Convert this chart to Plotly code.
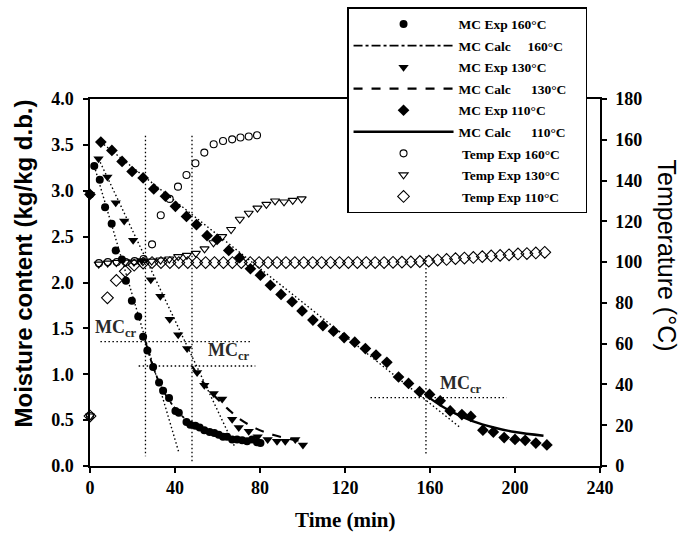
import plotly.graph_objects as go

# ---------------- data ----------------
# Moisture content, experimental
t_mc160 = [0, 2.0, 4.6, 7.1, 10.2, 12.1, 15.0, 16.9, 19.7, 22.7, 25.0, 27.0, 29.7, 32.5, 34.4, 37.2,
           40.2, 41.8, 45.4, 47.2, 49.6, 51.6, 53.8, 56.3, 58.5, 60.6, 62.6, 64.5, 66.9, 69.2, 71.6,
           73.9, 76.3, 78.6, 80.2]
mc160 = [2.96, 3.27, 3.12, 2.82, 2.64, 2.35, 2.25, 2.02, 1.80, 1.63, 1.41, 1.26, 1.08, 0.91, 0.82, 0.74,
         0.60, 0.58, 0.48, 0.45, 0.44, 0.42, 0.39, 0.37, 0.36, 0.34, 0.32, 0.32, 0.29, 0.29, 0.28,
         0.27, 0.29, 0.26, 0.25]

t_mc130 = [0, 4.0, 8.2, 12.1, 16.1, 20.3, 24.4, 28.6, 33.1, 37.5, 41.5, 45.7, 50.4, 53.8, 58.2, 62.2,
           66.9, 70.0, 74.7, 78.9, 83.6, 88.0, 91.9, 96.6, 100.2]
mc130 = [2.96, 3.35, 3.15, 2.87, 2.67, 2.46, 2.24, 2.03, 1.85, 1.60, 1.43, 1.28, 1.02, 0.88, 0.79, 0.73,
         0.51, 0.42, 0.38, 0.32, 0.29, 0.27, 0.27, 0.29, 0.23]

t_mc110 = [0, 5.1, 10.3, 15.1, 19.8, 25.0, 30.0, 35.5, 40.2, 45.4, 50.1, 55.1, 59.8, 65.3, 70.4, 75.5,
           80.2, 84.9, 89.9, 95.1, 99.8, 104.9, 109.6, 114.6, 119.6, 124.6, 129.6, 134.6, 139.7, 145.2,
           149.9, 155.1, 159.8, 164.8, 169.5, 175.0, 179.2, 184.9, 189.8, 194.9, 200.0, 204.8, 209.8, 215.0]
mc110 = [2.96, 3.53, 3.44, 3.32, 3.21, 3.14, 3.02, 2.94, 2.83, 2.72, 2.63, 2.51, 2.47, 2.35, 2.27, 2.15,
         2.08, 1.97, 1.87, 1.79, 1.69, 1.59, 1.53, 1.47, 1.40, 1.35, 1.28, 1.21, 1.13, 0.97,
         0.90, 0.81, 0.78, 0.71, 0.60, 0.56, 0.54, 0.39, 0.37, 0.31, 0.29, 0.28, 0.25, 0.23]

# Moisture content, calculated (falling-rate curves)
t_calc160 = [26.1, 30, 35, 40, 45, 50, 60, 70, 80]
mc_calc160 = [1.36, 1.06, 0.80, 0.63, 0.51, 0.43, 0.34, 0.29, 0.26]
t_calc130 = [48.0, 52, 56, 60, 65, 70, 78, 86, 95, 100]
mc_calc130 = [1.09, 0.95, 0.83, 0.73, 0.62, 0.52, 0.41, 0.34, 0.29, 0.27]
t_calc110 = [158.1, 165, 172, 180, 190, 200, 213.4]
mc_calc110 = [0.77, 0.66, 0.57, 0.49, 0.42, 0.37, 0.33]

# Constant-rate straight fits (dotted)
t_lin160 = [2.0, 41.9]
mc_lin160 = [3.27, 0.14]
t_lin130 = [4.0, 67.9]
mc_lin130 = [3.35, 0.22]
t_lin110 = [5.1, 174.2]
mc_lin110 = [3.53, 0.42]

# Critical moisture content guide lines
t_cr = [26.1, 48.0, 158.1]
mc_cr = [1.355, 1.09, 0.745]
vline_mc = [[3.6, 0.107], [3.6, 0.035], [2.29, 0.125]]
hline_t = [[4.9, 76.3], [22.9, 77.8], [132.0, 196.1]]
label_pos = [[1.5, 1.50], [54.8, 1.25], [163.8, 0.89]]

# Temperature, experimental
t_T160 = [0, 4.2, 8.4, 12.6, 16.8, 21.0, 25.2, 29.2, 33.3, 37.5, 41.4, 45.4, 49.6, 53.8, 58.2, 62.6,
          66.9, 70.8, 74.7, 78.6]
T160 = [24.5, 99.5, 100, 100, 100, 100.5, 101.5, 108.7, 123.0, 131.0, 137.0, 142.7, 148.5, 153.7, 157.8,
        159.4, 160.2, 161.1, 161.6, 162.2]

t_T130 = [0, 4.1, 8.3, 12.4, 16.6, 20.7, 24.9, 29.0, 33.2, 37.3, 41.5, 45.6, 49.8, 53.9, 58.1, 62.2,
          66.4, 70.5, 74.7, 78.8, 83.0, 87.1, 91.3, 95.4, 99.6]
T130 = [24.5, 99.0, 99.5, 99.8, 100, 100, 100.2, 100.5, 101, 101.5, 102.7, 103.3, 104.3, 106.5, 109.5,
        112.5, 116.0, 121.0, 124.0, 126.5, 128.3, 130.0, 129.5, 130.3, 131.0]

t_T110 = [0, 8.2, 12.4, 16.6, 20.8, 25.0, 29.2, 33.4, 37.6, 41.8, 46.0, 50.2, 54.4, 58.6, 62.8, 67.0,
          71.2, 75.4, 79.6, 83.8, 88.0, 92.2, 96.4, 100.6, 104.8, 109.0, 113.2, 117.4, 121.6, 125.8,
          130.0, 134.2, 138.4, 142.6, 146.8, 151.0, 155.2, 159.4, 163.6, 167.8, 172.0, 176.2, 180.4,
          184.6, 188.8, 193.0, 197.2, 201.4, 205.6, 209.8, 214.0]
T110 = [24.5, 82.5, 91.0, 95.5, 98.5, 99.5, 99.8, 99.8, 99.8, 99.8, 99.8, 99.8, 99.8, 99.8, 99.8, 99.8,
        99.8, 99.8, 99.8, 99.8, 99.8, 99.8, 99.8, 99.8, 99.8, 99.8, 99.8, 99.8, 99.8, 99.8,
        99.8, 99.8, 99.8, 99.9, 100.0, 100.1, 100.3, 100.5, 101.0, 101.3, 101.7, 102.0, 102.3,
        102.7, 103.0, 103.3, 103.6, 104.0, 104.2, 104.5, 104.8]

x_ticks = [0, 40, 80, 120, 160, 200, 240]
y_ticks = [0.0, 0.5, 1.0, 1.5, 2.0, 2.5, 3.0, 3.5, 4.0]
y2_ticks = [0, 20, 40, 60, 80, 100, 120, 140, 160, 180]

# ---------------- figure ----------------
SERIF = "Liberation Serif"
SANS = "Liberation Sans"
NB = "\u00a0"
DOT = "1.5px,2.5px"
PAD = NB * 4

fig = go.Figure()

# straight dotted constant-rate lines (no legend)
for tt, mm in [(t_lin160, mc_lin160), (t_lin130, mc_lin130), (t_lin110, mc_lin110)]:
    fig.add_trace(go.Scatter(x=tt, y=mm, mode="lines", showlegend=False, hoverinfo="skip",
                             line=dict(color="black", width=1.4, dash=DOT)))

# critical moisture guide lines
for i in range(3):
    fig.add_trace(go.Scatter(x=[t_cr[i], t_cr[i]], y=vline_mc[i], mode="lines", showlegend=False,
                             hoverinfo="skip", line=dict(color="black", width=1.3, dash=DOT)))
    fig.add_trace(go.Scatter(x=hline_t[i], y=[mc_cr[i], mc_cr[i]], mode="lines", showlegend=False,
                             hoverinfo="skip", line=dict(color="black", width=1.3, dash=DOT)))

def add(name, x, y, group, **kw):
    fig.add_trace(go.Scatter(x=x, y=y, name=name, legendgroup=group, cliponaxis=False, **kw))

add("MC Exp 160°C" + PAD, t_mc160, mc160, "a", mode="markers",
    marker=dict(symbol="circle", size=8, color="black"))
add("MC Calc" + NB * 5 + "160°C" + PAD, t_calc160, mc_calc160, "b", mode="lines",
    line=dict(color="black", width=1.8, dash="dashdot", shape="spline"))
add("MC Exp 130°C" + PAD, t_mc130, mc130, "c", mode="markers",
    marker=dict(symbol="triangle-down", size=9, color="black"))
add("MC Calc" + NB * 6 + "130°C" + PAD, t_calc130, mc_calc130, "d", mode="lines",
    line=dict(color="black", width=2.2, dash="dash", shape="spline"))
add("MC Exp 110°C" + PAD, t_mc110, mc110, "e", mode="markers",
    marker=dict(symbol="diamond", size=9, color="black"))
add("MC Calc" + NB * 6 + "110°C" + PAD, t_calc110, mc_calc110, "f", mode="lines",
    line=dict(color="black", width=2.4, shape="spline"))
add(NB + "Temp Exp 160°C" + PAD, t_T160, T160, "g", mode="markers", yaxis="y2",
    marker=dict(symbol="circle-open", size=7, color="black", line=dict(width=1.1)))
add(NB + "Temp Exp 130°C" + PAD, t_T130, T130, "h", mode="markers", yaxis="y2",
    marker=dict(symbol="triangle-down-open", size=8, color="black", line=dict(width=1.1)))
add(NB + "Temp Exp 110°C" + PAD, t_T110, T110, "i", mode="markers", yaxis="y2",
    marker=dict(symbol="diamond-open", size=9, color="black", line=dict(width=1.1)))

annotations = []
for (lx, ly) in label_pos:
    annotations.append(dict(x=lx, y=ly, xref="x", yref="y", xanchor="left", yanchor="middle",
                            text="MC<sub>cr</sub>", showarrow=False,
                            font=dict(family=SERIF, size=18, color="#2a2a2a", weight="bold")))

annotations += [
    dict(x=-0.13, y=0.551, xref="paper", yref="paper", xanchor="center", yanchor="middle",
         text="Moisture content (kg/kg d.b.)",
         textangle=-90, showarrow=False, font=dict(family=SANS, size=24, color="black", weight="bold")),
    dict(x=1.131, y=0.574, xref="paper", yref="paper", xanchor="center", yanchor="middle",
         text="Temperature (°C)",
         textangle=90, showarrow=False, font=dict(family=SANS, size=25, color="black")),
    dict(x=0.5, y=-0.148, xref="paper", yref="paper", xanchor="center", yanchor="middle",
         text="Time (min)",
         showarrow=False, font=dict(family=SERIF, size=21, color="black", weight="bold")),
]

axis_common = dict(showline=True, linecolor="black", linewidth=1.5, ticks="outside", ticklen=5,
                   tickwidth=1.5, tickcolor="black", showgrid=False, zeroline=False,
                   tickfont=dict(family=SERIF, size=18, color="black", weight="bold"))

fig.update_layout(
    width=683, height=540,
    margin=dict(l=89.5, r=83, t=99, b=73.5, autoexpand=False),
    paper_bgcolor="white", plot_bgcolor="white",
    xaxis=dict(range=[0, 240], tickvals=x_ticks, mirror=True, **axis_common),
    yaxis=dict(range=[0, 4], tickvals=y_ticks, tickformat=".1f", ticklabelstandoff=6, **axis_common),
    yaxis2=dict(range=[0, 180], tickvals=y2_ticks, overlaying="y", side="right",
                ticklabelstandoff=5, **axis_common),
    legend=dict(x=0.504, y=1.25, xanchor="left", yanchor="top", bgcolor="white",
                bordercolor="black", borderwidth=1.5, traceorder="grouped", tracegroupgap=1,
                itemwidth=100,
                font=dict(family=SERIF, size=13.5, color="black", weight="bold")),
    annotations=annotations,
    showlegend=True,
)

fig.write_html("out.html")
